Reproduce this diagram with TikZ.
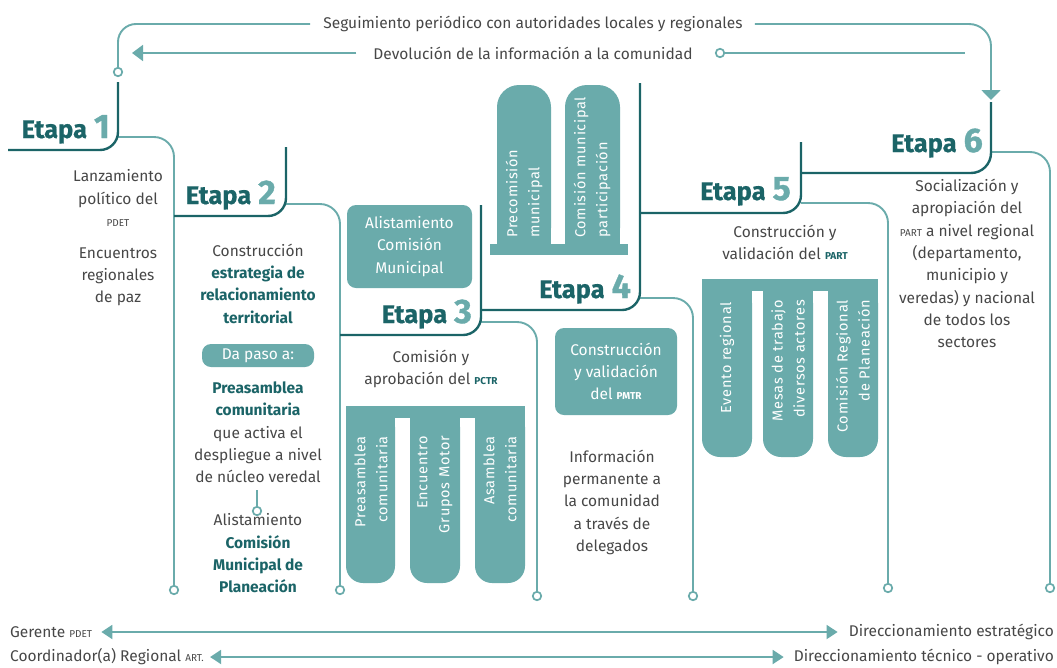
\documentclass[tikz,border=0pt]{standalone}
\usepackage{fontspec}
\setmainfont{Fira Sans}
\newfontfamily\colfam[LetterSpace=5]{Fira Sans}
\newfontfamily\digfam[FakeBold=1]{Fira Sans}
\newfontfamily\etfam[BoldFeatures={FakeBold=0.6}]{Fira Sans}
\usetikzlibrary{arrows.meta}
\definecolor{tealD}{HTML}{1B6467}
\definecolor{tealL}{HTML}{6AABAB}
\definecolor{txtG}{HTML}{474747}
\newcommand{\bodyf}{\fontsize{15.5}{22.3}\selectfont}
\newcommand{\etapaf}{\etfam\fontsize{25.5}{26}\selectfont\bfseries}
\newcommand{\colf}{\colfam\fontsize{14.5}{22}\selectfont}
\newcommand{\acr}[1]{{\fontsize{10}{10}\selectfont #1}}
\newcommand{\acrb}[1]{{\fontsize{10}{10}\selectfont\bfseries #1}}
\newcommand{\tb}[1]{{\bfseries\color{tealD}#1}}
\newcommand{\etapa}[1]{Etapa\hspace{7pt}{\digfam\fontsize{34}{34}\selectfont\color{tealL}#1}}
\tikzset{
  dline/.style={draw=tealD, line width=2.4pt, rounded corners=18pt},
  lline/.style={draw=tealL, line width=1.9pt, rounded corners=20pt},
  endc/.style={circle, draw=tealL, fill=white, line width=1.7pt, minimum size=8.5pt, inner sep=0pt},
  etapalbl/.style={anchor=base east, inner sep=0pt, text=tealD, font=\etapaf},
  body/.style={anchor=north, inner sep=0pt, align=center, text=txtG, font=\bodyf, execute at begin node=\strut},
  single/.style={inner sep=0pt, text=txtG, font=\bodyf},
  tbox/.style={fill=tealL, rounded corners=9pt, text=white, font=\bodyf, align=center, inner sep=0pt},
  coltext/.style={text=white, font=\colf, inner sep=0pt, rotate=90},
  boxfill/.style={fill=tealL},
}
\begin{document}
\begin{tikzpicture}[x=1pt,y=-1pt]
\useasboundingbox (0,0) rectangle (1057,667);

% ---------- top loop ----------
\node[single] (seg) at (533,24) {Seguimiento periódico con autoridades locales y regionales};
\node[single] (dev) at (533,53) {Devolución de la información a la comunidad};
\node[endc] (tc1) at (118,72) {};
\node[endc] (dc) at (720,53) {};
\coordinate (tr) at (965,53);
\coordinate (arrTip) at (991,100);
\coordinate (devTip) at (132,53);
\draw[lline, rounded corners=18pt] (tc1.north) -- (118,24) -- ([xshift=-13pt]seg.west);
\draw[lline, rounded corners=22pt, -{Triangle[length=10pt,width=19pt]}] ([xshift=12pt]seg.east) -- (991,24) -- (arrTip);
\draw[lline, -{Triangle[length=11pt,width=16pt]}] ([xshift=-17pt]dev.west) -- (devTip);
\draw[lline] (dc.east) -- (tr);

% ---------- column end circles ----------
\node[endc] (c1) at (174,590) {};
\node[endc] (c2) at (340,590) {};
\node[endc] (c3) at (537,596) {};
\node[endc] (c4) at (693,596) {};
\node[endc] (c5) at (888,588) {};
\node[endc] (c6) at (1050,588) {};

% ---------- light column lines ----------
\draw[lline] (118,137) -- (174,137) -- (c1.north);
\draw[lline] (286,204) -- (340,204) -- (c2.north);
\draw[lline] (481,322) -- (537,322) -- (c3.north);
\draw[lline] (640,298) -- (693,298) -- (c4.north);
\draw[lline] (801,203) -- (888,203) -- (c5.north);
\draw[lline] (991,152) -- (1050,152) -- (c6.north);

% ---------- dark stage brackets ----------
\draw[dline] (8,150) -- (118,150) -- (118,82);
\draw[dline] (174,216) -- (286,216) -- (286,147);
\draw[dline] (340,335) -- (481,335) -- (481,205);
\draw[dline] (481,310) -- (640,310) -- (640,83);
\draw[dline] (640,213) -- (801,213) -- (801,142);
\draw[dline, rounded corners=20pt] (801,173) -- (991,173) -- (991,102);

% ---------- stage labels ----------
\node[etapalbl] (E1) at (110,138) {\etapa{1}};
\node[etapalbl] (E2) at (276,204) {\etapa{2}};
\node[etapalbl] (E3) at (472,323) {\etapa{3}};
\node[etapalbl] (E4) at (631,298) {\etapa{4}};
\node[etapalbl] (E5) at (791,200) {\etapa{5}};
\node[etapalbl] (E6) at (983,152) {\etapa{6}};

% ---------- stage 1 ----------
\node[body] (t1a) at (118,169.5) {Lanzamiento\\político del\\\acr{PDET}};
\node[body] (t1b) at (118,247.5) {Encuentros\\regionales\\de paz};

% ---------- stage 2 ----------
\node[body] (t2a) at (258,243.5) {Construcción\\\tb{estrategia de}\\\tb{relacionamiento}\\\tb{territorial}};
\node[tbox, minimum width=112pt, minimum height=23pt] (t2b) at (258,355.5) {Da paso a:};
\node[body] (t2c) at (258,381.5) {\tb{Preasamblea}\\\tb{comunitaria}\\que activa el\\despliegue a nivel\\de núcleo veredal};
\coordinate (t2link) at (257,490);
\node[endc] (t2circ) at (257,511) {};
\draw[lline] (t2link) -- (t2circ.north);
\node[body] (t2d) at (258,513.5) {Alistamiento\\\tb{Comisión}\\\tb{Municipal de}\\\tb{Planeación}};

% ---------- stage 3 ----------
\node[tbox, minimum width=125pt, minimum height=83pt] (b3) at (409.5,246.5) {Alistamiento\\Comisión\\Municipal};
\node[body] (t3) at (431,349.5) {Comisión y\\aprobación del \acrb{\color{tealD}PCTR}};
\fill[boxfill] (346,406) rectangle (525,418);
\foreach \a/\b in {346/395,410/460,475/525}{
  \fill[boxfill, rounded corners=17pt] (\a,410) rectangle (\b,583);
  \fill[boxfill] (\a,410) rectangle (\b,450);
}
\node[coltext, align=right, anchor=east] (c31) at (371,436) {Preasamblea\\comunitaria};
\node[coltext, align=right, anchor=east] (c32) at (435,436) {Encuentro\\Grupos Motor};
\node[coltext, align=right, anchor=east] (c33) at (500,436) {Asamblea\\comunitaria};

% ---------- stage 4 ----------
\foreach \a/\b in {497/551,565/620}{
  \fill[boxfill, rounded corners=22pt] (\a,85) rectangle (\b,250);
  \fill[boxfill] (\a,180) rectangle (\b,250);
}
\fill[boxfill] (490,244) rectangle (628,255);
\node[coltext, align=left, anchor=west] (c41) at (524,238) {Precomisión\\municipal};
\node[coltext, align=left, anchor=west] (c42) at (592,238) {Comisión municipal\\participación};
\node[tbox, minimum width=122pt, minimum height=87pt] (b4) at (616,371.5) {Construcción\\y validación\\del \acrb{PMTR}};
\node[body] (t4) at (612,449.5) {Información\\permanente a\\la comunidad\\a través de\\delegados};

% ---------- stage 5 ----------
\node[body] (t5) at (785,224.5) {Construcción y\\validación del \acrb{\color{tealD}PART}};
\fill[boxfill] (702,279) rectangle (878,291);
\foreach \a/\b in {702/752,763/813,828/878}{
  \fill[boxfill, rounded corners=18pt] (\a,285) rectangle (\b,457);
  \fill[boxfill] (\a,285) rectangle (\b,330);
}
\node[coltext, align=right, anchor=east] (c51) at (727,302) {Evento regional};
\node[coltext, align=right, anchor=east] (c52) at (788,300) {Mesas de trabajo\\diversos actores};
\node[coltext, align=right, anchor=east] (c53) at (853,300) {Comisión Regional\\de Planeación};

% ---------- stage 6 ----------
\node[body] (t6) at (967,179) {Socialización y\\apropiación del\\\acr{PART} a nivel regional\\(departamento,\\municipio y\\veredas) y nacional\\de todos los\\sectores};

% ---------- bottom arrows ----------
\node[single, anchor=west] (ger) at (10,632) {Gerente \acr{PDET}};
\node[single, anchor=west] (coo) at (10,657) {Coordinador(a) Regional \acr{ART.}};
\node[single, anchor=east] (dir1) at (1054,632) {Direccionamiento estratégico};
\node[single, anchor=east] (dir2) at (1054,657) {Direccionamiento técnico - operativo};
\draw[lline, {Triangle[length=11pt,width=14pt]}-{Triangle[length=11pt,width=14pt]}] ([xshift=9pt]ger.east) -- ([xshift=-11pt]dir1.west);
\draw[lline, {Triangle[length=11pt,width=14pt]}-{Triangle[length=11pt,width=14pt]}] ([xshift=6pt]coo.east) -- ([xshift=-10pt]dir2.west);
\end{tikzpicture}
\end{document}
